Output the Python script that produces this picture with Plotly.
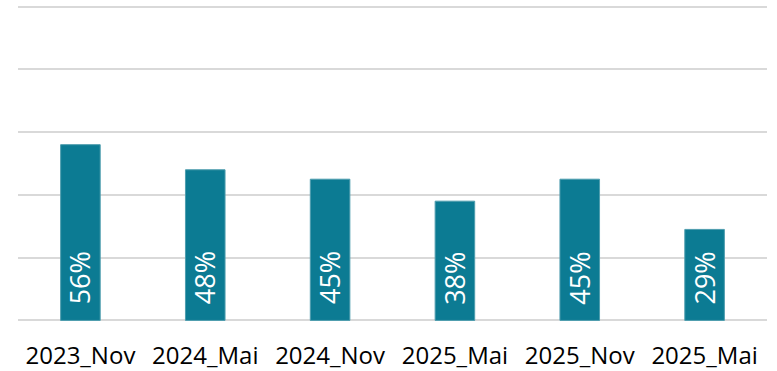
import plotly.graph_objects as go

# Survey waves and share of respondents (fraction of 1)
waves = ["2023_Nov", "2024_Mai", "2024_Nov", "2025_Mai", "2025_Nov", "2025_Mai"]
shares = [0.56, 0.48, 0.45, 0.38, 0.45, 0.29]
positions = list(range(len(waves)))

BAR_COLOR = "#0C7B93"
GRID_COLOR = "#D9D9D9"

fig = go.Figure(
    go.Bar(
        x=positions,
        y=shares,
        width=0.317,
        marker=dict(color=BAR_COLOR, line=dict(color="#4E9DAE", width=1)),
        hoverinfo="skip",
    )
)

# Percentage labels, rotated and sitting near the foot of each bar
for xpos, val in zip(positions, shares):
    fig.add_annotation(
        x=xpos,
        y=0,
        xref="x",
        yref="y",
        text=f"{round(val * 100)}%",
        textangle=-90,
        showarrow=False,
        xanchor="center",
        yanchor="bottom",
        yshift=14,
        font=dict(family="Open Sans", size=27, color="white"),
    )

fig.update_layout(
    width=777,
    height=371,
    margin=dict(l=18, r=10, t=5.43, b=48.93),
    paper_bgcolor="white",
    plot_bgcolor="white",
    showlegend=False,
    xaxis=dict(
        range=[-0.5, len(waves) - 0.5],
        tickvals=positions,
        ticktext=waves,
        showgrid=False,
        zeroline=False,
        showline=False,
        ticks="",
        automargin=False,
        ticklabelstandoff=17,
        tickfont=dict(family="Open Sans", size=24, color="#000000"),
    ),
    yaxis=dict(
        range=[-0.005, 1.005],
        tickvals=[0, 0.2, 0.4, 0.6, 0.8, 1.0],
        showticklabels=False,
        showgrid=True,
        gridcolor=GRID_COLOR,
        gridwidth=2,
        zeroline=False,
        showline=False,
        ticks="",
        automargin=False,
    ),
)

fig.write_html("out.html")
